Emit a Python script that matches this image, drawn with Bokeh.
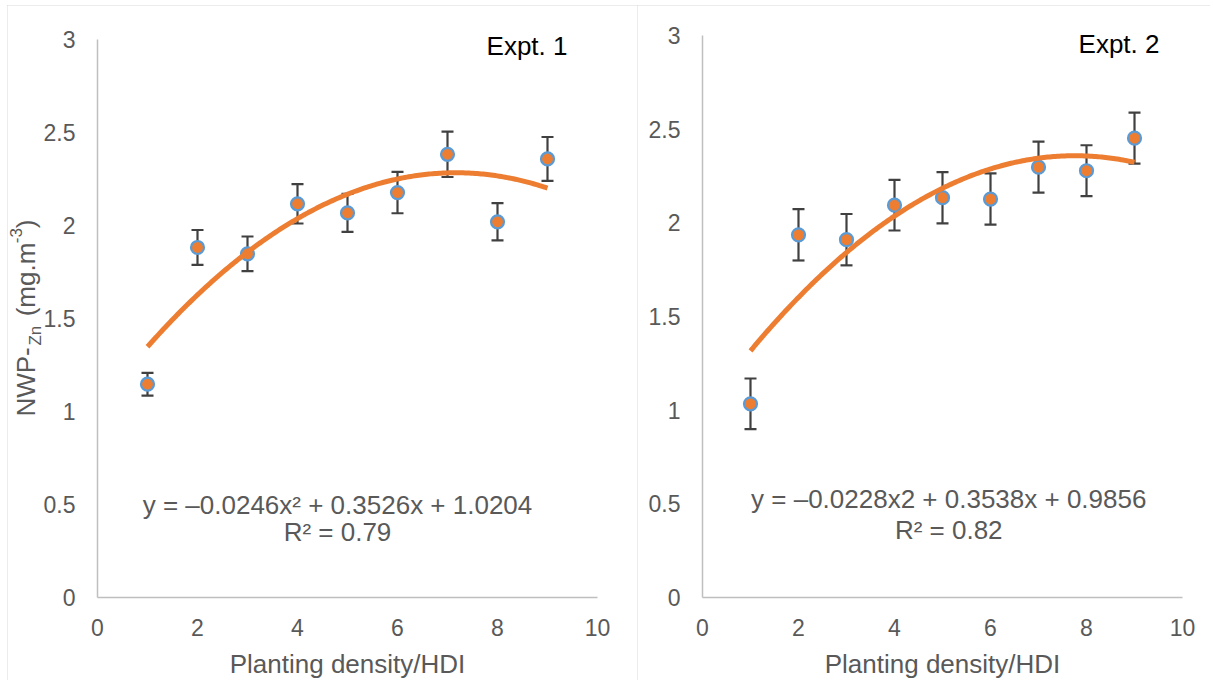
import numpy as np
from bokeh.plotting import figure
from bokeh.layouts import row
from bokeh.models import Label, ColumnDataSource, Range1d, FixedTicker
from bokeh.core.properties import value
from bokeh.embed import file_html
from bokeh.resources import INLINE

# ---- data ----
density = [1, 2, 3, 4, 5, 6, 7, 8, 9]
expt1_nwp = [1.147, 1.882, 1.848, 2.117, 2.068, 2.177, 2.383, 2.020, 2.358]
expt1_err = [0.061, 0.094, 0.093, 0.106, 0.102, 0.111, 0.122, 0.100, 0.118]
expt2_nwp = [1.034, 1.936, 1.910, 2.094, 2.134, 2.127, 2.297, 2.278, 2.452]
expt2_err = [0.135, 0.137, 0.137, 0.135, 0.137, 0.137, 0.136, 0.136, 0.136]
expt1_coef = [-0.0246, 0.3526, 1.0204]
expt2_coef = [-0.0228, 0.3538, 0.9856]
expt1_eq = ["y = \u20130.0246x\u00b2 + 0.3526x + 1.0204", "R\u00b2 = 0.79"]
expt2_eq = ["y = \u20130.0228x2 + 0.3538x + 0.9856", "R\u00b2 = 0.82"]
x_ticks = [0, 2, 4, 6, 8, 10]
y_ticks = [0, 0.5, 1, 1.5, 2, 2.5, 3]
y_label_parts = ["NWP-", "Zn", "(mg.m", "-3", ")"]

FONT = "Liberation Sans"
GRAY = "#595959"
ORANGE = "#ED7D31"
BLUE = "#5B9BD5"
ERR = "#404040"
AXIS = "#bfbfbf"


def make_panel(width, height, xr, yr, nwp, err, coef, eq, title,
               title_x, title_y, eq_x, eq_y1, eq_y2, cap):
    # frame fills the whole canvas; axes are drawn at fixed locations x=0 / y=0
    p = figure(width=width, height=height, output_backend="svg", toolbar_location=None,
               x_range=Range1d(*xr), y_range=Range1d(*yr),
               min_border_left=0, min_border_right=0,
               min_border_top=0, min_border_bottom=0,
               background_fill_color="white", border_fill_color="white")
    p.outline_line_color = None
    p.grid.visible = False
    p.styles = {"outline": "1px solid #d9d9d9", "outline-offset": "-1px"}
    for ax in (p.xaxis, p.yaxis):
        ax.axis_line_color = AXIS
        ax.axis_line_width = 1.5
        ax.major_tick_line_color = None
        ax.minor_tick_line_color = None
        ax.major_label_text_font = FONT
        ax.major_label_text_font_size = "23px"
        ax.major_label_text_color = GRAY
    p.xaxis.ticker = FixedTicker(ticks=x_ticks)
    p.yaxis.ticker = FixedTicker(ticks=y_ticks)
    p.xaxis.bounds = (0, 10)
    p.yaxis.bounds = (0, 3)
    p.yaxis.fixed_location = 0
    p.xaxis.fixed_location = 0
    p.yaxis.major_label_standoff = 16
    p.xaxis.major_label_standoff = 15
    p.xaxis.axis_label = "Planting density/HDI"
    p.xaxis.axis_label_text_font = FONT
    p.xaxis.axis_label_text_font_size = "26px"
    p.xaxis.axis_label_text_font_style = "normal"
    p.xaxis.axis_label_text_color = GRAY
    p.xaxis.axis_label_standoff = 10

    lower = [v - e for v, e in zip(nwp, err)]
    upper = [v + e for v, e in zip(nwp, err)]
    src = ColumnDataSource(dict(x=density, y=nwp, lo=lower, hi=upper))
    p.segment(x0="x", y0="lo", x1="x", y1="hi", source=src, line_color=ERR, line_width=2.2)
    p.segment(x0=[d - cap for d in density], y0=lower, x1=[d + cap for d in density], y1=lower,
              line_color=ERR, line_width=2.2)
    p.segment(x0=[d - cap for d in density], y0=upper, x1=[d + cap for d in density], y1=upper,
              line_color=ERR, line_width=2.2)
    p.scatter(x="x", y="y", source=src, size=13, fill_color=ORANGE, line_color=BLUE, line_width=2.2)

    xs = np.linspace(density[0], density[-1], 200)
    ys = coef[0] * xs ** 2 + coef[1] * xs + coef[2]
    p.line(xs, ys, line_color=ORANGE, line_width=5)

    p.add_layout(Label(x=title_x, y=title_y, text=title, text_font=FONT, text_font_size="26px",
                       text_color="black", text_align="right", text_baseline="middle"))
    p.add_layout(Label(x=eq_x, y=eq_y1, text=eq[0], text_font=FONT, text_font_size="26px",
                       text_color=GRAY, text_align="center", text_baseline="middle"))
    p.add_layout(Label(x=eq_x, y=eq_y2, text=eq[1], text_font=FONT, text_font_size="26px",
                       text_color=GRAY, text_align="center", text_baseline="middle"))
    return p


p1 = make_panel(630, 675, (-1.8, 10.8), (-0.446, 3.183),
                expt1_nwp, expt1_err, expt1_coef, expt1_eq,
                "Expt. 1", 9.4, 2.966, 4.8, 0.500, 0.355, 0.12)
p2 = make_panel(573, 675, (-1.354, 10.583), (-0.443, 3.160),
                expt2_nwp, expt2_err, expt2_coef, expt2_eq,
                "Expt. 2", 9.52, 2.952, 5.13, 0.525, 0.360, 0.125)

# composite rotated y-axis title for the left panel (text glyphs inside the frame)
ang = np.pi / 2
lab_x = [-1.43, -1.25, -1.43, -1.64, -1.43]
lab_y = [0.973, 1.355, 1.512, 1.905, 1.986]
lab_size = ["26px", "17px", "26px", "17px", "26px"]
for xx, yy, tt, ss in zip(lab_x, lab_y, y_label_parts, lab_size):
    p1.text(x=[xx], y=[yy], text=[tt], angle=ang, text_font=value(FONT), text_font_size=ss,
            text_color=GRAY, text_align="left", text_baseline="alphabetic")

layout = row(p1, p2, margin=(5, 0, 0, 7))
open("out.html", "w").write(file_html(layout, INLINE))
